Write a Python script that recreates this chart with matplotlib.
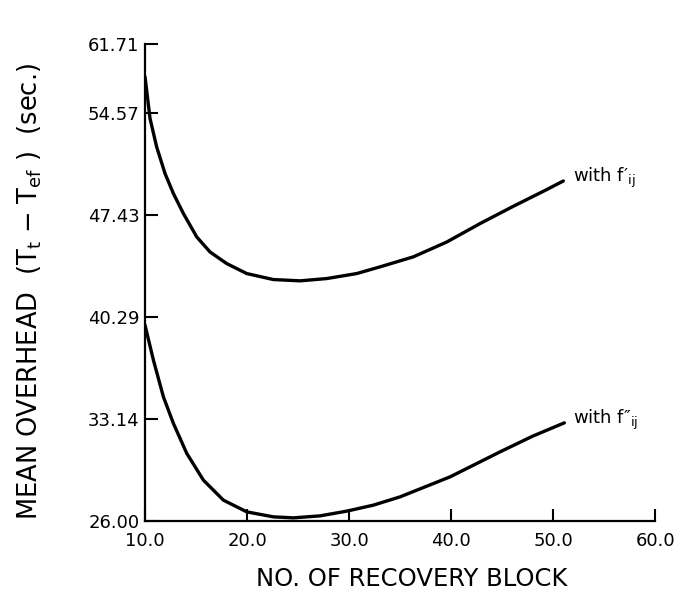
import matplotlib
matplotlib.use('Agg')
import matplotlib.pyplot as plt

# values
blocks_f1 = [10.0, 10.49, 11.14, 11.96, 12.78, 13.76, 15.07, 16.37, 18.0, 19.97,
             22.58, 25.2, 27.81, 30.75, 33.04, 36.3, 39.58, 42.84, 46.1, 49.38, 51.0]
overhead_f1 = [57.07, 54.16, 52.17, 50.31, 48.91, 47.51, 45.87, 44.82, 44.01, 43.31,
               42.89, 42.80, 42.96, 43.31, 43.78, 44.48, 45.52, 46.81, 48.02, 49.19, 49.79]

blocks_f2 = [10.0, 10.82, 11.8, 12.78, 14.09, 15.72, 17.68, 19.97, 22.58, 24.54,
             27.16, 29.77, 32.38, 35.0, 39.9, 44.8, 48.0, 51.1]
overhead_f2 = [39.69, 37.25, 34.68, 32.82, 30.72, 28.85, 27.45, 26.63, 26.28, 26.21,
               26.35, 26.68, 27.10, 27.68, 29.08, 30.83, 31.93, 32.86]

x_ticks = [10.0, 20.0, 30.0, 40.0, 50.0, 60.0]
# the top tick of the original sits lower than an even spacing would put it
y_ticks = [26.00, 33.14, 40.29, 47.43, 54.57, 59.36]
y_tick_labels = ['26.00', '33.14', '40.29', '47.43', '54.57', '61.71']

plt.rcParams['mathtext.default'] = 'regular'
plt.rcParams['font.family'] = 'DejaVu Sans'

fig = plt.figure(figsize=(6.94, 5.98), dpi=100)
ax = fig.add_axes([0.209, 0.129, 0.735, 0.797])

ax.plot(blocks_f1, overhead_f1, color='black', linewidth=2.4, solid_capstyle='round')
ax.plot(blocks_f2, overhead_f2, color='black', linewidth=2.4, solid_capstyle='round')

ax.set_xlim(10, 60)
ax.set_ylim(26, 59.36)

ax.spines['top'].set_visible(False)
ax.spines['right'].set_visible(False)
ax.spines['left'].set_linewidth(1.6)
ax.spines['bottom'].set_linewidth(1.6)

ax.set_xticks(x_ticks)
ax.set_xticklabels(['%.1f' % v for v in x_ticks])
ax.set_yticks(y_ticks)
ax.set_yticklabels(y_tick_labels)
ax.tick_params(direction='in', length=9, width=1.5, labelsize=13)
ax.tick_params(axis='x', pad=8)
ax.tick_params(axis='y', pad=4)

ax.set_xlabel('NO. OF RECOVERY BLOCK', fontsize=17.5)
ax.xaxis.set_label_coords(0.523, -0.097)
ax.set_ylabel(r'MEAN OVERHEAD  (T$_{t}$ $-$ T$_{ef}$ )  (sec.)', fontsize=18.5)
ax.yaxis.set_label_coords(-0.198, 0.482)

ax.text(blocks_f1[-1] + 0.9, overhead_f1[-1] + 0.2, 'with f\u2032$_{ij}$', fontsize=13, va='center')
ax.text(blocks_f2[-1] + 0.8, overhead_f2[-1] + 0.2, 'with f\u2033$_{ij}$', fontsize=13, va='center')

plt.savefig('out.png', dpi=100)
